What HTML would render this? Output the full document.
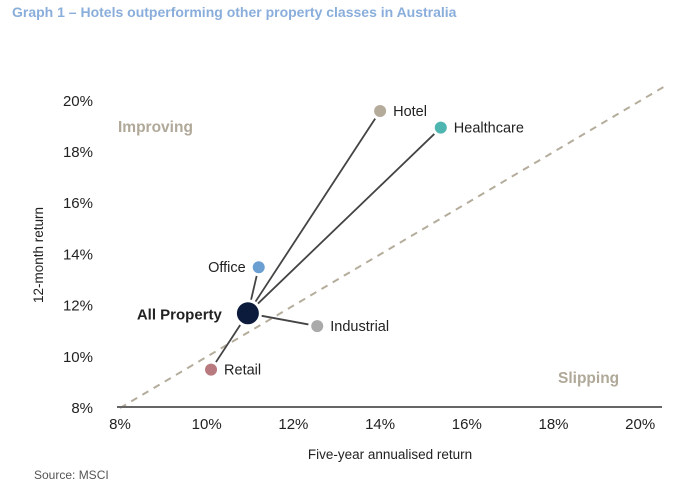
<!DOCTYPE html>
<html><head><meta charset="utf-8"><style>
body{margin:0;background:#fff;font-family:"Liberation Sans",Arial,sans-serif;}
svg text{font-family:"Liberation Sans",Arial,sans-serif;}
</style></head><body>
<svg width="700" height="491" viewBox="0 0 700 491" id="chart">
<text x="12" y="17" font-size="14" font-weight="bold" fill="#8aaedb">Graph 1 – Hotels outperforming other property classes in Australia</text>
<text x="118" y="132" font-size="15.5" font-weight="bold" fill="#b0a898">Improving</text>
<text x="558" y="383" font-size="15.5" font-weight="bold" fill="#b0a898">Slipping</text>
<text x="0" y="0" transform="translate(43,255) rotate(-90)" text-anchor="middle" font-size="13.5" fill="#222">12-month return</text>
<text x="390" y="459" text-anchor="middle" font-size="13.5" fill="#222">Five-year annualised return</text>
<text x="34" y="479" font-size="12" fill="#555">Source: MSCI</text>
<g id="g"></g>
</svg>
<script>
const xTicks=[8,10,12,14,16,18,20];
const yTicks=[8,10,12,14,16,18,20];
const names=["Hotel","Healthcare","Office","Industrial","Retail"];
const xVals=[14.0,15.4,11.2,12.55,10.1];
const yVals=[19.6,18.95,13.5,11.2,9.5];
const colors=["#b5ab9a","#4fb5b0","#6b9fd2","#aaaaaa","#b87a7e"];
const allX=10.95, allY=11.7;
const X=v=>120+(v-8)*43.35;
const Y=v=>408-(v-8)*25.6;
const g=document.getElementById('g');
const NS="http://www.w3.org/2000/svg";
function mk(t,a,txt){const e=document.createElementNS(NS,t);for(const k in a)e.setAttribute(k,a[k]);if(txt!==undefined)e.textContent=txt;g.appendChild(e);return e;}
let e;
e=mk('line',{x1:X(8),y1:Y(8),x2:X(20.6),y2:Y(20.6),stroke:'#b5ad9c','stroke-width':2,'stroke-dasharray':'7,6'});

e=mk('line',{x1:117,y1:407,x2:662,y2:407,stroke:'#666','stroke-width':2});

xTicks.forEach(t=>{e=mk('text',{x:X(t),y:429,'text-anchor':'middle','font-size':15,fill:'#222'},t+'%');
});
yTicks.forEach(t=>{e=mk('text',{x:93,y:Y(t)+5,'text-anchor':'end','font-size':15,fill:'#222'},t+'%');
});
const ax=X(allX),ay=Y(allY);
names.forEach((n,i)=>{
 const px=X(xVals[i]),py=Y(yVals[i]);const dx=px-ax,dy=py-ay,d=Math.hypot(dx,dy);
 e=mk('line',{x1:ax+dx/d*14,y1:ay+dy/d*14,x2:px-dx/d*9,y2:py-dy/d*9,stroke:'#444','stroke-width':1.8});
 
 e=mk('circle',{cx:px,cy:py,r:6,fill:colors[i]});
 
 const left=(n==="Office");
 e=mk('text',{x:left?px-13:px+13,y:py+5,'text-anchor':left?'end':'start','font-size':14.5,fill:'#222'},n);
 
});
e=mk('circle',{cx:ax,cy:ay,r:11,fill:'#0c1a3c'});

e=mk('text',{x:ax-26,y:ay+6,'text-anchor':'end','font-size':15,'font-weight':'bold',fill:'#222'},'All Property');

</script>
</body></html>
